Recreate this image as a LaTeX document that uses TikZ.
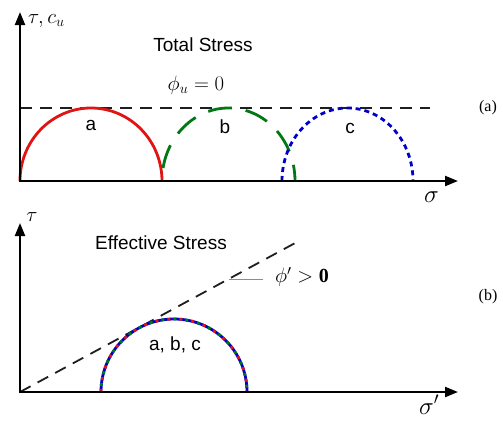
\documentclass[tikz,border=0pt]{standalone}
\usepackage{fontspec}
\setmainfont{Liberation Sans}
\newfontfamily\seriffont{Liberation Serif}
\usetikzlibrary{arrows.meta}
\definecolor{cRed}{RGB}{225,20,20}
\definecolor{cGreen}{RGB}{0,120,20}
\definecolor{cBlue}{RGB}{0,0,205}
\definecolor{cDash}{RGB}{30,30,30}
\definecolor{cLead}{RGB}{140,140,140}
\begin{document}
\begin{tikzpicture}[x=1pt,y=-1pt,
  axis/.style={line width=2.2pt,-{Triangle[length=13pt,width=10pt]}},
  envl/.style={cDash,line width=1.8pt,dash pattern=on 12pt off 8pt},
  circ/.style={line width=2.8pt},
  lbl/.style={font=\fontsize{19}{22}\selectfont,inner sep=0pt},
  mth/.style={font=\fontsize{20}{24}\selectfont,inner sep=0pt},
  sig/.style={font=\fontsize{27}{30}\selectfont,inner sep=0pt},
  tag/.style={font=\seriffont\fontsize{16}{19}\selectfont,inner sep=0pt}]
\useasboundingbox (0,0) rectangle (503,421);
% ---------- panel (a)
\coordinate (O1) at (20,181);
\coordinate (O1b) at (20,182.1);
\coordinate (Y1) at (20,12);
\coordinate (X1) at (458,181);
\coordinate (E1a) at (20,108);
\coordinate (E1b) at (430,108);
\draw[envl] (E1a) -- (E1b);
\draw[circ,cRed] (20,181) arc[start angle=180,end angle=360,x radius=71,y radius=73];
\draw[circ,cGreen,dash pattern=on 24pt off 14pt,dash phase=25pt] (162,181) arc[start angle=180,end angle=360,x radius=66.5,y radius=73];
\draw[circ,cBlue,dash pattern=on 5pt off 4pt] (282,181) arc[start angle=180,end angle=360,x radius=65.5,y radius=73];
\draw[axis] (O1b) -- (Y1);
\draw[axis] (O1) -- (X1);
\node[mth,anchor=base west] (tcu) at (28,23) {$\tau, c_u$};
\node[lbl] (ts) at (203,45) {Total Stress};
\node[mth] (phu) at (196,85) {$\phi_u = 0$};
\node[lbl] (la) at (91,125) {a};
\node[lbl] (lb) at (225,127) {b};
\node[lbl] (lc) at (350,128) {c};
\node[tag] (ta) at (488,108) {(a)};
\node[sig,anchor=base west] (s1) at (424,202) {$\sigma$};
% ---------- panel (b)
\coordinate (O2) at (20,392);
\coordinate (O2b) at (20,393.1);
\coordinate (Y2) at (20,223);
\coordinate (X2) at (458,392);
\coordinate (E2) at (297,242);
\coordinate (L1) at (229,279.6);
\coordinate (L2) at (263,279.6);
\draw[envl] (O2) -- (E2);
\draw[cLead,line width=1.3pt] (L1) -- (L2);
\draw[circ,cBlue] (101,392) arc[start angle=180,end angle=360,radius=73];
\draw[circ,cRed,dash pattern=on 3pt off 9pt] (101,392) arc[start angle=180,end angle=360,radius=73];
\draw[circ,cGreen,dash pattern=on 3pt off 9pt,dash phase=6pt] (101,392) arc[start angle=180,end angle=360,radius=73];
\draw[axis] (O2b) -- (Y2);
\draw[axis] (O2) -- (X2);
\node[mth] (t2) at (32,217) {$\tau$};
\node[lbl] (es) at (161,243) {Effective Stress};
\node[lbl] (abc) at (175,345) {a, b, c};
\node[mth,anchor=west] (php) at (275,277) {$\phi' > \textbf{\seriffont 0}$};
\node[tag] (tb) at (488,297) {(b)};
\node[sig,anchor=base west] (s2) at (419,414) {$\sigma'$};
\end{tikzpicture}
\end{document}
